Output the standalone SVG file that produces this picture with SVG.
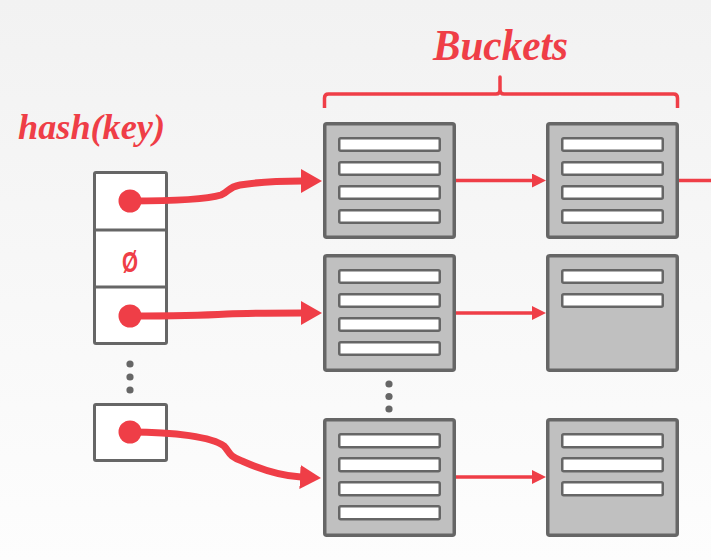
<svg xmlns="http://www.w3.org/2000/svg" width="711" height="560" viewBox="0 0 711 560">
<defs>
<linearGradient id="bg" x1="0" y1="0" x2="0" y2="1">
<stop offset="0" stop-color="#f2f2f2"/>
<stop offset="1" stop-color="#fdfdfd"/>
</linearGradient>
<marker id="bigArrow" markerUnits="userSpaceOnUse" viewBox="0 0 21 24" refX="1" refY="12" markerWidth="21" markerHeight="24" orient="auto">
<path d="M0,0 L21,12 L0,24 z" fill="#ef3e47"/>
</marker>
<marker id="smallArrow" markerUnits="userSpaceOnUse" viewBox="0 0 14 14" refX="1" refY="7" markerWidth="14" markerHeight="14" orient="auto">
<path d="M0,0 L14,7 L0,14 z" fill="#ef3e47"/>
</marker>
</defs>
<style>
.title{font-family:"Liberation Serif",serif;font-weight:bold;font-style:italic;fill:#ef3e47}
.cell{fill:#ffffff;stroke:#666666;stroke-width:3}
.bucket{fill:#c0c0c0;stroke:#666666;stroke-width:3.5}
.slots{fill:#ffffff;stroke:#666666;stroke-width:2.5}
.ptr{fill:#ef3e47}
.dot{fill:#666666}
.thick{fill:none;stroke:#ef3e47;stroke-width:7;stroke-linecap:round}
.thin{fill:none;stroke:#ef3e47;stroke-width:3.5}
.brace{fill:none;stroke:#ef3e47;stroke-width:3.5;stroke-linejoin:round}
</style>
<rect x="0" y="0" width="711" height="560" fill="url(#bg)"/>

<g id="label-buckets">
<text class="title" x="433" y="60" font-size="44" textLength="135" lengthAdjust="spacingAndGlyphs">Buckets</text>
<path class="brace" d="M324.5,108 L324.5,98 Q324.5,94 328.5,94 L496,94 Q500,94 500,90 L500,77 L500,90 Q500,94 504,94 L673.5,94 Q677.5,94 677.5,98 L677.5,108"/>
</g>

<g id="label-hash">
<text class="title" x="18" y="139" font-size="36" textLength="147" lengthAdjust="spacingAndGlyphs">hash(key)</text>
</g>

<g id="hash-table">
<rect class="cell" x="94.5" y="172.5" width="72" height="171" rx="1.5"/>
<line x1="94.5" y1="230" x2="166.5" y2="230" stroke="#666666" stroke-width="3"/>
<line x1="94.5" y1="287" x2="166.5" y2="287" stroke="#666666" stroke-width="3"/>
<text x="122" y="272" font-family="Liberation Sans, Arial, sans-serif" font-weight="bold" font-size="30" fill="#ef3e47" textLength="16" lengthAdjust="spacingAndGlyphs">Ø</text>
<circle class="dot" cx="130" cy="364" r="3.6"/>
<circle class="dot" cx="130" cy="377" r="3.6"/>
<circle class="dot" cx="130" cy="390" r="3.6"/>
<rect class="cell" x="94.5" y="404.5" width="72" height="56" rx="1.5"/>
</g>

<g id="bucket-1-1">
<rect class="bucket" x="324.75" y="123.75" width="129.5" height="113.5" rx="2"/>
<g class="slots"><rect x="339.25" y="138.25" width="100.5" height="12.5" rx="1.5"/><rect x="339.25" y="162.25" width="100.5" height="12.5" rx="1.5"/><rect x="339.25" y="186.25" width="100.5" height="12.5" rx="1.5"/><rect x="339.25" y="210.25" width="100.5" height="12.5" rx="1.5"/></g>
</g>
<g id="bucket-1-2">
<rect class="bucket" x="547.75" y="123.75" width="129.5" height="113.5" rx="2"/>
<g class="slots"><rect x="562.25" y="138.25" width="100.5" height="12.5" rx="1.5"/><rect x="562.25" y="162.25" width="100.5" height="12.5" rx="1.5"/><rect x="562.25" y="186.25" width="100.5" height="12.5" rx="1.5"/><rect x="562.25" y="210.25" width="100.5" height="12.5" rx="1.5"/></g>
</g>
<g id="bucket-2-1">
<rect class="bucket" x="324.75" y="255.75" width="129.5" height="114.5" rx="2"/>
<g class="slots"><rect x="339.25" y="270.25" width="100.5" height="12.5" rx="1.5"/><rect x="339.25" y="294.25" width="100.5" height="12.5" rx="1.5"/><rect x="339.25" y="318.25" width="100.5" height="12.5" rx="1.5"/><rect x="339.25" y="342.25" width="100.5" height="12.5" rx="1.5"/></g>
</g>
<g id="bucket-2-2">
<rect class="bucket" x="547.75" y="255.75" width="129.5" height="114.5" rx="2"/>
<g class="slots"><rect x="562.25" y="270.25" width="100.5" height="12.5" rx="1.5"/><rect x="562.25" y="294.25" width="100.5" height="12.5" rx="1.5"/></g>
</g>
<g id="vdots">
<circle class="dot" cx="389" cy="384" r="3.6"/>
<circle class="dot" cx="389" cy="396.5" r="3.6"/>
<circle class="dot" cx="389" cy="409" r="3.6"/>
</g>
<g id="bucket-3-1">
<rect class="bucket" x="324.75" y="419.75" width="129.5" height="115.5" rx="2"/>
<g class="slots"><rect x="339.25" y="434.25" width="100.5" height="13" rx="1.5"/><rect x="339.25" y="458.25" width="100.5" height="13" rx="1.5"/><rect x="339.25" y="482.25" width="100.5" height="13" rx="1.5"/><rect x="339.25" y="506.25" width="100.5" height="13" rx="1.5"/></g>
</g>
<g id="bucket-3-2">
<rect class="bucket" x="547.75" y="419.75" width="129.5" height="115.5" rx="2"/>
<g class="slots"><rect x="562.25" y="434.25" width="100.5" height="13" rx="1.5"/><rect x="562.25" y="458.25" width="100.5" height="13" rx="1.5"/><rect x="562.25" y="482.25" width="100.5" height="13" rx="1.5"/></g>
</g>

<g id="connectors">
<path class="thick" d="M130,201 C170,201 208,199 221,195 C229,192 228,187 240,185 C258,182 282,181 302,181" marker-end="url(#bigArrow)"/>
<path class="thick" d="M130,316 C170,316 210,315 227,314 C250,313 280,313 302,313" marker-end="url(#bigArrow)"/>
<path class="thick" d="M130,432 C175,432 212,437 224,446 C230,452 228,456 242,461 C260,469 282,476 301,477" marker-end="url(#bigArrow)"/>
<circle class="ptr" cx="130" cy="201" r="11.5"/>
<circle class="ptr" cx="130" cy="316" r="11.5"/>
<circle class="ptr" cx="130" cy="432" r="11.5"/>
<line class="thin" x1="456" y1="180.5" x2="533" y2="180.5" marker-end="url(#smallArrow)"/>
<line class="thin" x1="679" y1="180.5" x2="711" y2="180.5"/>
<line class="thin" x1="456" y1="313" x2="533" y2="313" marker-end="url(#smallArrow)"/>
<line class="thin" x1="456" y1="477" x2="533" y2="477" marker-end="url(#smallArrow)"/>
</g>
</svg>
